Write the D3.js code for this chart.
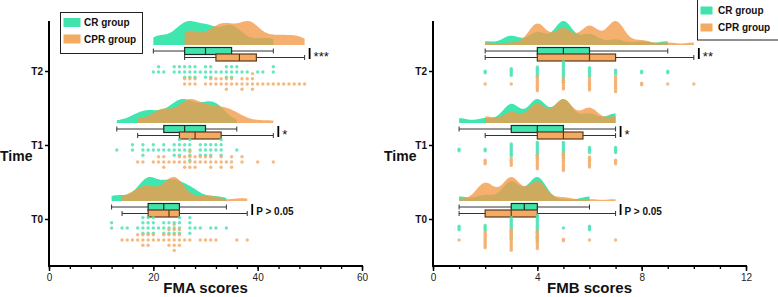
<!DOCTYPE html>
<html>
<head>
<meta charset="utf-8">
<title>FMA / FMB raincloud</title>
<script src="https://cdn.jsdelivr.net/npm/d3@7"></script>
<style>
    body {
        margin: 0;
        background: #fff;
        font-family: "Liberation Sans", Arial, sans-serif;
    }
</style>
</head>
<body>
<svg id="mainsvg" width="778" height="297"></svg>
<script>
    // time points (top to bottom) and groups
    const times = ['T2', 'T1', 'T0'];
    const groups = ['CR group', 'CPR group'];

    const fmaTicks = [0, 20, 40, 60];
    const fmbTicks = [0, 4, 8, 12];

    // scores as [score, number of patients]
    const fmaCR_T2 = [[20,1],[21,2],[22,1],[24,2],[25,2],[26,3],[27,3],[28,3],[29,1],[30,3],[31,3],[32,1],[33,1],[34,3],[35,3],[36,2],[37,1],[38,1],[40,1],[41,1],[43,2]];
    const fmaCPR_T2 = [[26,2],[27,2],[28,2],[30,1],[31,2],[32,2],[33,2],[34,3],[35,2],[36,1],[37,3],[38,2],[39,4],[40,1],[41,1],[42,1],[43,1],[44,1],[45,1],[46,1],[47,1],[48,1],[49,1]];
    const fmaCR_T1 = [[13,1],[16,2],[18,3],[19,1],[20,2],[21,1],[22,2],[23,1],[24,3],[25,4],[26,2],[27,5],[29,3],[30,3],[31,3],[32,2],[33,4],[36,1]];
    const fmaCPR_T1 = [[17,1],[18,1],[20,1],[21,2],[22,3],[23,1],[24,1],[25,2],[26,3],[27,4],[28,3],[29,2],[30,2],[31,3],[32,1],[33,3],[34,1],[35,3],[37,2],[40,1],[43,1]];
    const fmaCR_T0 = [[12,2],[14,1],[15,1],[17,1],[18,4],[19,4],[20,4],[21,1],[22,3],[23,3],[24,3],[25,4],[27,4],[28,1],[29,1],[31,1],[32,1],[34,1]];
    const fmaCPR_T0 = [[14,1],[15,1],[16,1],[17,2],[18,3],[19,3],[20,2],[21,1],[22,2],[23,4],[24,6],[25,4],[26,1],[27,1],[29,1],[30,1],[31,1],[32,1],[36,1],[38,1]];

    const fmbCR_T2 = [[2,2],[3,5],[4,7],[5,13],[6,6],[7,3],[8,2],[9,2]];
    const fmbCPR_T2 = [[2,1],[3,1],[4,9],[5,7],[6,8],[7,10],[8,2],[9,1],[10,1]];
    const fmbCR_T1 = [[1,2],[2,2],[3,8],[4,10],[5,10],[6,4],[7,4]];
    const fmbCPR_T1 = [[2,3],[3,5],[4,9],[5,11],[6,7],[7,3]];
    const fmbCR_T0 = [[1,3],[2,4],[3,13],[4,16],[5,1],[6,3]];
    const fmbCPR_T0 = [[1,1],[2,10],[3,13],[4,11],[5,2],[6,1],[7,1]];

    const fmaSig = ['***', '*', 'P > 0.05'];
    const fmbSig = ['**', '*', 'P > 0.05'];

    const svg = d3.select('#mainsvg');
    const axisY = 266, axisTop = 21;
    const yTick = d3.scalePoint().domain(times).range([71, 219]);
    const yGroup = d3.scalePoint().domain(times).range([51, 207]);

    const cloudFill = { 'CR group': '#3fe6ae', 'CPR group': '#f29b4b' };
    const cloudOpacity = { 'CR group': 1, 'CPR group': 0.8 };
    const boxFill = { 'CR group': '#3fe3ab', 'CPR group': '#f5aa62' };
    const boxStroke = { 'CR group': '#1e2d27', 'CPR group': '#5a3a1e' };
    const dotFill = { 'CR group': '#4fe3b4', 'CPR group': '#f3ad6c' };
    const boxOffset = { 'CR group': 0, 'CPR group': 6.5 };
    const dotOffset = { 'CR group': 21, 'CPR group': 33 };

    const expand = pairs => pairs.flatMap(([v, n]) => d3.range(n).map(() => v));

    const panels = [
        { label: 'FMA scores', left: 49, right: 362, max: 60, ticks: fmaTicks, minor: 4,
          bw: 1.55, grid: true, gap: 5.2, timeX: 0, sig: fmaSig,
          data: { 'CR group': [fmaCR_T2, fmaCR_T1, fmaCR_T0], 'CPR group': [fmaCPR_T2, fmaCPR_T1, fmaCPR_T0] } },
        { label: 'FMB scores', left: 433, right: 746, max: 12, ticks: fmbTicks, minor: 1,
          bw: 0.34, grid: false, gap: 1.7, timeX: 384, sig: fmbSig,
          data: { 'CR group': [fmbCR_T2, fmbCR_T1, fmbCR_T0], 'CPR group': [fmbCPR_T2, fmbCPR_T1, fmbCPR_T0] } }
    ];

    function kde(values, bw, lo, hi) {
        return d3.range(0, 121).map(i => {
            const x = lo + (hi - lo) * i / 120;
            return [x, d3.mean(values, v => Math.exp(-0.5 * ((x - v) / bw) ** 2))];
        });
    }

    panels.forEach(p => {
        const x = d3.scaleLinear().domain([0, p.max]).range([p.left, p.right]);
        const g = svg.append('g');

        times.forEach((t, i) => {
            const anchor = yGroup(t);
            const base = anchor - 6;

            // clouds
            groups.forEach(grp => {
                const vals = expand(p.data[grp][i]).sort(d3.ascending);
                const dens = kde(vals, p.bw, vals[0], vals[vals.length - 1]);
                const hMax = d3.max(dens, d => d[1]);
                const h = d3.scaleLinear().domain([0, hMax]).range([0, 24]);
                g.append('path')
                    .datum(dens)
                    .attr('d', d3.area().x(d => x(d[0])).y0(base).y1(d => base - h(d[1])))
                    .attr('fill', cloudFill[grp])
                    .attr('fill-opacity', cloudOpacity[grp]);
            });

            // boxes
            let maxAll = 0;
            groups.forEach(grp => {
                const vals = expand(p.data[grp][i]).sort(d3.ascending);
                const q1 = d3.quantile(vals, 0.25), med = d3.quantile(vals, 0.5), q3 = d3.quantile(vals, 0.75);
                const lo = vals[0], hi = vals[vals.length - 1];
                maxAll = Math.max(maxAll, hi);
                const cy = anchor + boxOffset[grp];
                g.append('line')
                    .attr('x1', x(lo)).attr('x2', x(hi)).attr('y1', cy).attr('y2', cy)
                    .attr('stroke', '#333').attr('stroke-width', 1);
                [lo, hi].forEach(v => g.append('line')
                    .attr('x1', x(v)).attr('x2', x(v)).attr('y1', cy - 2.5).attr('y2', cy + 2.5)
                    .attr('stroke', '#333').attr('stroke-width', 1));
                g.append('rect')
                    .attr('x', x(q1)).attr('width', x(q3) - x(q1))
                    .attr('y', cy - 3.5).attr('height', 7)
                    .attr('fill', boxFill[grp])
                    .attr('stroke', boxStroke[grp]).attr('stroke-width', 1.2);
                g.append('line')
                    .attr('x1', x(med)).attr('x2', x(med)).attr('y1', cy - 3.5).attr('y2', cy + 3.5)
                    .attr('stroke', boxStroke[grp]).attr('stroke-width', 1.2);
            });

            // significance
            const bx = x(maxAll) + 5;
            g.append('line')
                .attr('x1', bx).attr('x2', bx).attr('y1', anchor - 3).attr('y2', anchor + 8)
                .attr('stroke', '#000').attr('stroke-width', 1.8);
            const isP = p.sig[i].startsWith('P');
            g.append('text')
                .attr('x', bx + 4).attr('y', anchor + (isP ? 8 : 10))
                .attr('font-size', isP ? 10 : 13)
                .attr('font-weight', isP ? 'bold' : 'normal')
                .attr('fill', '#111')
                .text(p.sig[i]);

            // dots
            groups.forEach(grp => {
                const cy = anchor + dotOffset[grp];
                const pts = [];
                p.data[grp][i].forEach(([v, n]) => {
                    d3.range(n).forEach(k => {
                        const off = p.grid ? (k % 2 ? -(k + 1) / 2 : k / 2) * p.gap : (k - (n - 1) / 2) * p.gap;
                        pts.push({ v, y: cy + off });
                    });
                });
                g.append('g').selectAll('circle')
                    .data(pts)
                    .join('circle')
                    .attr('cx', d => x(d.v))
                    .attr('cy', d => d.y)
                    .attr('r', 1.7)
                    .attr('fill', dotFill[grp])
                    .attr('fill-opacity', 0.85);
            });
        });

        // x axis
        g.append('g')
            .attr('transform', `translate(0,${axisY})`)
            .call(d3.axisBottom(x).tickValues(d3.range(0, p.max + 0.001, p.minor)).tickSize(3).tickFormat(''))
            .call(a => a.select('.domain').remove())
            .call(a => a.selectAll('line').attr('stroke', '#000').attr('stroke-width', 1.3));
        g.append('g')
            .attr('transform', `translate(0,${axisY})`)
            .call(d3.axisBottom(x).tickValues(p.ticks).tickSize(5).tickPadding(3))
            .call(a => a.select('.domain').remove())
            .call(a => a.selectAll('line').attr('stroke', '#000').attr('stroke-width', 1.5))
            .call(a => a.selectAll('text').attr('font-size', 10).attr('fill', '#222')
                .attr('font-family', '"Liberation Sans", Arial, sans-serif'));
        g.append('line')
            .attr('x1', p.left - 1).attr('x2', p.right + 1).attr('y1', axisY).attr('y2', axisY)
            .attr('stroke', '#000').attr('stroke-width', 2);

        // y axis
        g.append('g')
            .attr('transform', `translate(${p.left},0)`)
            .call(d3.axisLeft(yTick).tickSize(4).tickPadding(2))
            .call(a => a.select('.domain').remove())
            .call(a => a.selectAll('line').attr('stroke', '#000').attr('stroke-width', 1.5))
            .call(a => a.selectAll('text').attr('font-size', 10).attr('font-weight', 'bold').attr('fill', '#111')
                .attr('font-family', '"Liberation Sans", Arial, sans-serif'));
        g.append('line')
            .attr('x1', p.left).attr('x2', p.left).attr('y1', axisTop).attr('y2', axisY + 1)
            .attr('stroke', '#000').attr('stroke-width', 2);

        // axis titles
        g.append('text')
            .attr('x', (p.left + p.right) / 2).attr('y', 293)
            .attr('text-anchor', 'middle')
            .attr('font-size', 15).attr('font-weight', 'bold').attr('fill', '#111')
            .text(p.label);
        g.append('text')
            .attr('x', p.timeX).attr('y', 161)
            .attr('font-size', 14).attr('font-weight', 'bold').attr('fill', '#111')
            .text('Time');
    });

    // legends
    function legend(x0, y0, w, h, sw, rows, tx) {
        const lg = svg.append('g');
        lg.append('rect')
            .attr('x', x0).attr('y', y0).attr('width', w).attr('height', h)
            .attr('fill', '#fff').attr('stroke', '#222').attr('stroke-width', 1);
        groups.forEach((grp, i) => {
            lg.append('rect')
                .attr('x', x0 + 3).attr('y', rows[i] - sw[1] / 2)
                .attr('width', sw[0]).attr('height', sw[1])
                .attr('fill', boxFill[grp]);
            lg.append('text')
                .attr('x', tx).attr('y', rows[i]).attr('dy', '0.35em')
                .attr('font-size', 10).attr('font-weight', 'bold').attr('fill', '#111')
                .text(grp);
        });
    }
    legend(60.5, 12.5, 82, 41, [17, 9], [22.5, 39], 84);
    legend(697.5, -1, 100, 41, [12, 8], [10.5, 27.5], 718);
</script>
</body>
</html>
